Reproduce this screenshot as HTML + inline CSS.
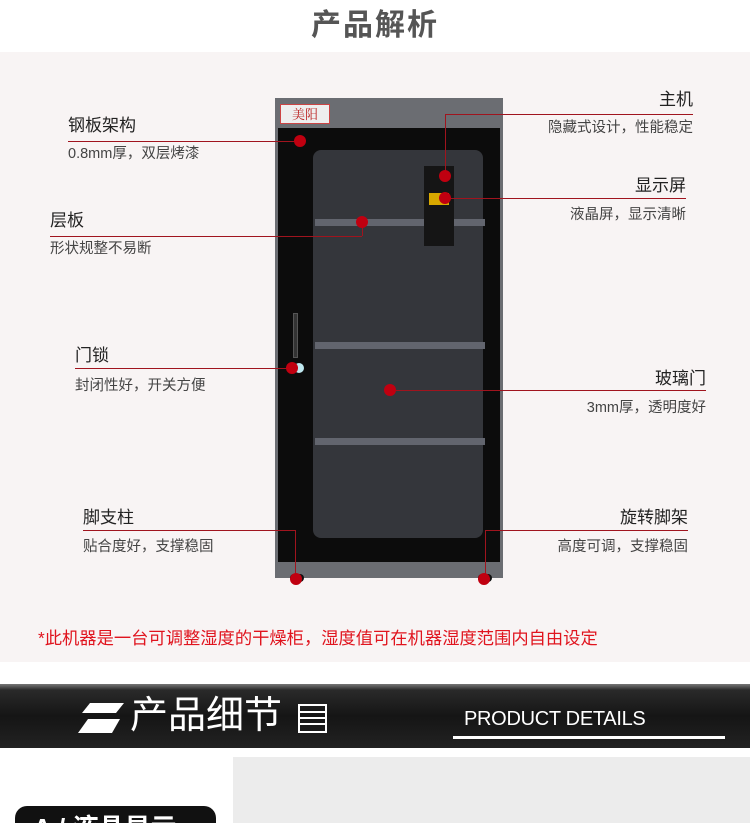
<!DOCTYPE html>
<html style="width:750px;height:823px;overflow:hidden"><head><meta charset="utf-8"><style>
*{margin:0;padding:0;box-sizing:border-box}
body{width:750px;height:823px;position:relative;overflow:hidden;background:#fff;font-family:"Liberation Sans","Noto Sans CJK SC",sans-serif}
.a{position:absolute}
.t{position:absolute;font-size:17px;line-height:20px;color:#222;white-space:nowrap}
.s{position:absolute;font-size:14.5px;line-height:18px;color:#444;white-space:nowrap}
.r{text-align:right}
.h{position:absolute;height:1px;background:#a0141e}
.v{position:absolute;width:1px;background:#a0141e}
.d{position:absolute;width:12px;height:12px;border-radius:50%;background:#c00010;margin:-6px 0 0 -6px}
.sh{position:absolute;left:315px;width:170px;height:7px;background:#62656e}
</style></head><body>
<div class="a" style="left:0;top:0;width:750px;height:52px;text-align:center;font-size:30px;font-weight:bold;color:#555;line-height:52px;letter-spacing:2px">产品解析</div>
<div class="a" style="left:0;top:52px;width:750px;height:610px;background:#f8f4f4"></div>
<!-- cabinet -->
<div class="a" style="left:275px;top:98px;width:228px;height:480px;background:#6b6d72"></div>
<div class="a" style="left:280px;top:104px;width:50px;height:20px;background:#eee;border:1px solid #c44;color:#b22;font-size:13px;line-height:18px;text-align:center;font-family:'Noto Serif CJK SC',serif">美阳</div>
<div class="a" style="left:278px;top:128px;width:222px;height:434px;background:#0c0c0c"></div>
<div class="a" style="left:313px;top:150px;width:170px;height:388px;background:#34363b;border-radius:8px"></div>
<div class="sh" style="top:219px"></div>
<div class="sh" style="top:342px"></div>
<div class="sh" style="top:438px"></div>
<div class="a" style="left:424px;top:166px;width:30px;height:80px;background:#151515"></div>
<div class="a" style="left:429px;top:193px;width:20px;height:12px;background:#d8a800"></div>
<div class="a" style="left:293px;top:313px;width:5px;height:45px;background:#333;border:1px solid #555"></div>
<div class="a" style="left:294px;top:363px;width:10px;height:10px;border-radius:50%;background:#bfe8f0"></div>
<div class="a" style="left:290px;top:574px;width:14px;height:8px;border-radius:4px;background:#111"></div>
<div class="a" style="left:478px;top:574px;width:14px;height:8px;border-radius:4px;background:#111"></div>
<!-- lines -->
<div class="h" style="left:68px;top:141px;width:232px"></div>
<div class="h" style="left:50px;top:236px;width:312px"></div><div class="v" style="left:362px;top:222px;height:14px"></div>
<div class="h" style="left:75px;top:368px;width:217px"></div>
<div class="h" style="left:83px;top:530px;width:212px"></div><div class="v" style="left:295px;top:530px;height:48px"></div>
<div class="h" style="left:445px;top:114px;width:248px"></div><div class="v" style="left:445px;top:114px;height:62px"></div>
<div class="h" style="left:445px;top:198px;width:241px"></div>
<div class="h" style="left:390px;top:390px;width:316px"></div>
<div class="h" style="left:485px;top:530px;width:203px"></div><div class="v" style="left:485px;top:530px;height:48px"></div>
<div class="d" style="left:300px;top:141px"></div>
<div class="d" style="left:362px;top:222px"></div>
<div class="d" style="left:292px;top:368px"></div>
<div class="d" style="left:296px;top:579px"></div>
<div class="d" style="left:445px;top:176px"></div>
<div class="d" style="left:445px;top:198px"></div>
<div class="d" style="left:390px;top:390px"></div>
<div class="d" style="left:484px;top:579px"></div>
<!-- labels -->
<div class="t" style="left:68px;top:116px">钢板架构</div>
<div class="s" style="left:68px;top:145px">0.8mm厚，双层烤漆</div>
<div class="t" style="left:50px;top:211px">层板</div>
<div class="s" style="left:50px;top:240px">形状规整不易断</div>
<div class="t" style="left:75px;top:346px">门锁</div>
<div class="s" style="left:75px;top:377px">封闭性好，开关方便</div>
<div class="t" style="left:83px;top:508px">脚支柱</div>
<div class="s" style="left:83px;top:538px">贴合度好，支撑稳固</div>
<div class="t r" style="right:57px;top:90px">主机</div>
<div class="s r" style="right:57px;top:119px">隐藏式设计，性能稳定</div>
<div class="t r" style="right:64px;top:176px">显示屏</div>
<div class="s r" style="right:64px;top:206px">液晶屏，显示清晰</div>
<div class="t r" style="right:44px;top:369px">玻璃门</div>
<div class="s r" style="right:44px;top:399px">3mm厚，透明度好</div>
<div class="t r" style="right:62px;top:508px">旋转脚架</div>
<div class="s r" style="right:62px;top:538px">高度可调，支撑稳固</div>
<div class="a" style="left:38px;top:624px;font-size:17.3px;color:#e0141e;white-space:nowrap">*此机器是一台可调整湿度的干燥柜，湿度值可在机器湿度范围内自由设定</div>
<!-- banner -->
<div class="a" style="left:0;top:684px;width:750px;height:64px;background:linear-gradient(#777 0,#2a2a2a 6px,#151515 50%,#222 100%)"></div>
<svg class="a" style="left:78px;top:703px" width="46" height="30"><polygon points="12,0 46,0 38,10 4,10" fill="#fff"/><polygon points="10,16 42,16 34,30 0,30" fill="#fff"/></svg>
<div class="a" style="left:130px;top:693px;font-size:38px;color:#fff;white-space:nowrap;line-height:46px">产品细节</div>
<svg class="a" style="left:298px;top:704px" width="30" height="30"><rect x="1" y="1" width="27" height="27" fill="none" stroke="#fff" stroke-width="2"/><path d="M1 8H28M1 14H28M1 20H28" stroke="#fff" stroke-width="2"/></svg>
<div class="a" style="left:464px;top:708px;font-size:20px;color:#fff;white-space:nowrap;letter-spacing:-0.3px">PRODUCT DETAILS</div>
<div class="a" style="left:453px;top:736px;width:272px;height:3px;background:#fff"></div>
<div class="a" style="left:233px;top:757px;width:517px;height:66px;background:#ececec"></div>
<div class="a" style="left:15px;top:806px;width:201px;height:40px;background:#111;border-radius:12px;color:#fff;font-size:26px;font-weight:bold;padding-left:18px;line-height:44px;white-space:nowrap">A / 液晶显示</div>
</body></html>
